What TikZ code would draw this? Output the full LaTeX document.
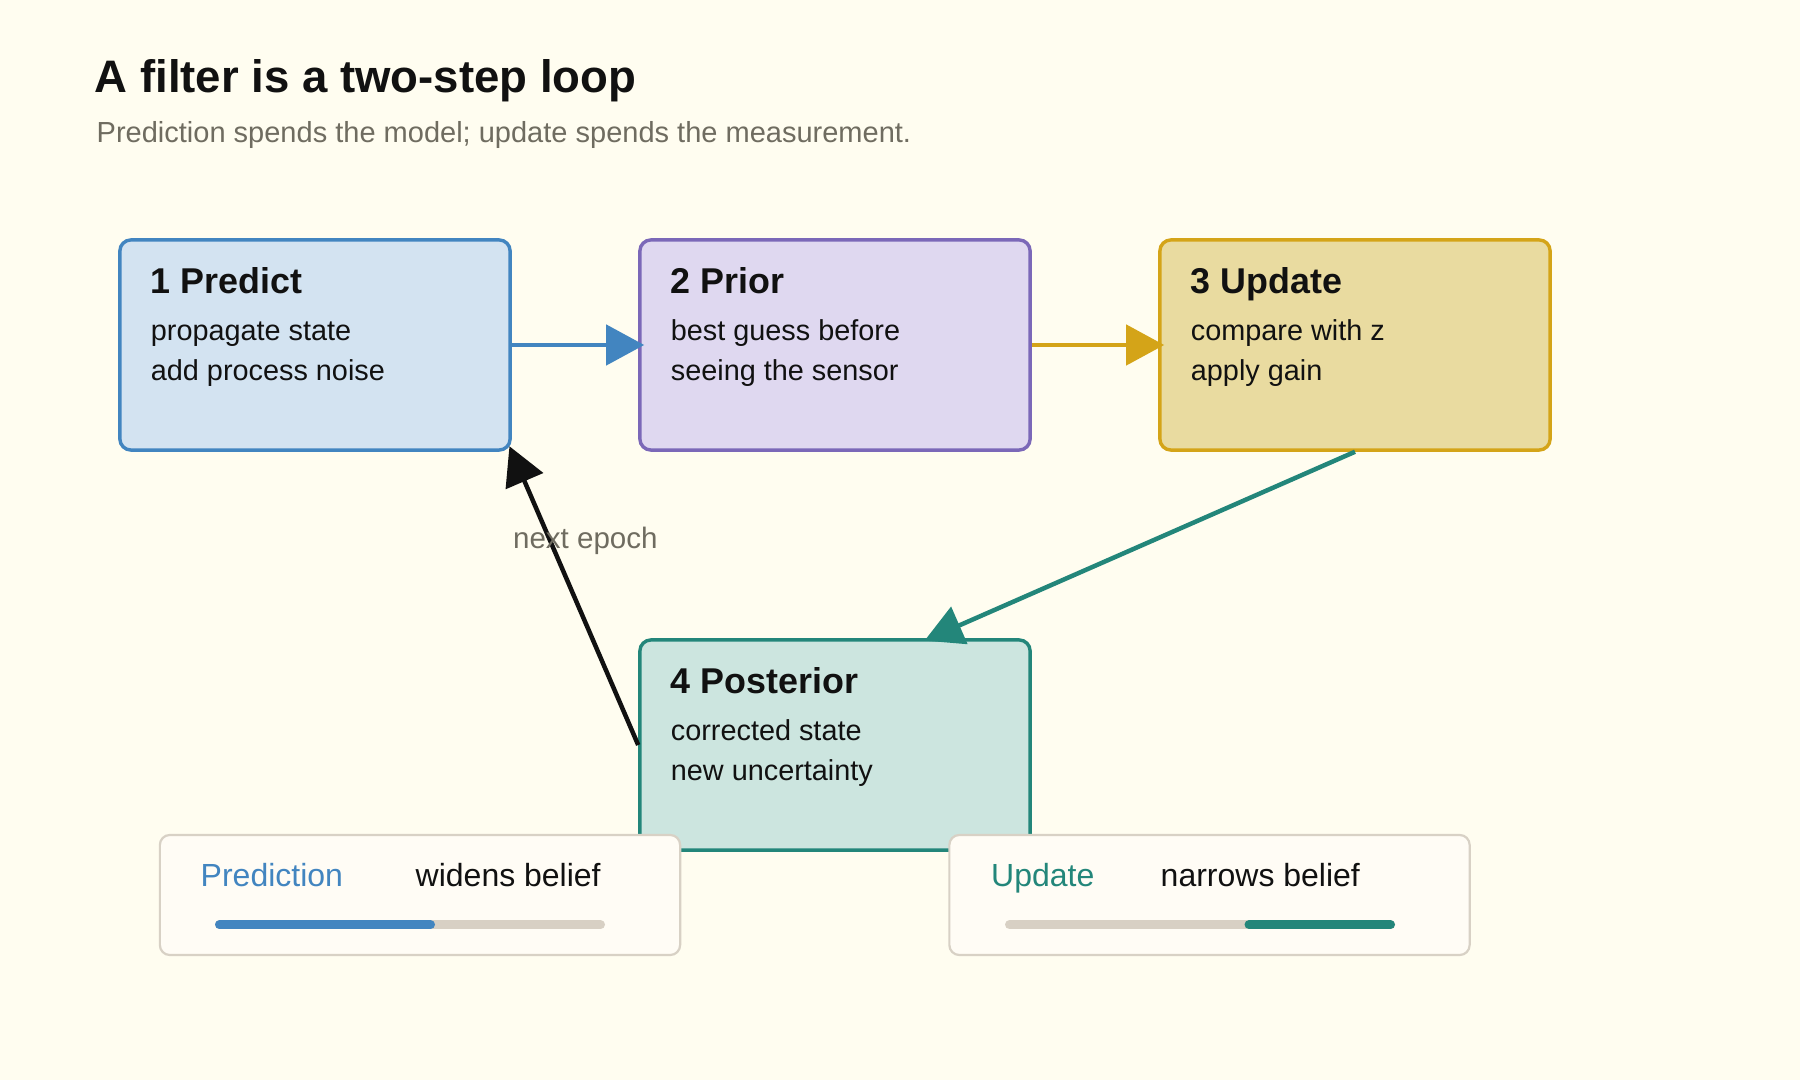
\documentclass[tikz,border=0pt]{standalone}
\usepackage{fontspec}
\setmainfont{Liberation Sans}
\usetikzlibrary{arrows.meta, calc}

\definecolor{bgcream}{HTML}{FFFDF0}
\definecolor{inkdark}{HTML}{111111}
\definecolor{inkgray}{HTML}{6F6C60}
\definecolor{predline}{HTML}{4285C0}
\definecolor{predfill}{HTML}{D3E3F1}
\definecolor{priorline}{HTML}{7B68B8}
\definecolor{priorfill}{HTML}{DFD8F0}
\definecolor{updline}{HTML}{D4A418}
\definecolor{updfill}{HTML}{E9DBA0}
\definecolor{postline}{HTML}{23867A}
\definecolor{postfill}{HTML}{CCE5DF}
\definecolor{legline}{HTML}{D8D1C5}
\definecolor{legfill}{HTML}{FFFCF5}
\definecolor{bargray}{HTML}{D8D0C4}

\begin{document}
\begin{tikzpicture}[x=0.01cm, y=-0.01cm,
    txt/.style={inner sep=0pt, anchor=base west, text=inkdark},
    head/.style={txt, font=\fontsize{10.2}{12}\selectfont\bfseries},
    body/.style={txt, font=\fontsize{8.2}{10}\selectfont},
    flow/.style={-{Triangle[length=3.8mm, width=4mm]}, line width=0.45mm, shorten >=-0.6mm},
    legbox/.style={draw=legline, fill=legfill, rounded corners=1mm, line width=0.22mm,
        minimum width=5.2cm, minimum height=1.2cm, inner sep=0pt},
    legtxt/.style={txt, font=\fontsize{9.1}{11}\selectfont},
    bar/.style={line width=0.09cm, line cap=round}]
\fill[bgcream] (0,0) rectangle (1800,1080);
\useasboundingbox (0,0) rectangle (1800,1080);

\node[txt, font=\fontsize{12.95}{15}\selectfont\bfseries] (title) at (94,93) {A filter is a two-step loop};
\node[txt, text=inkgray, font=\fontsize{8.25}{10}\selectfont] (subtitle) at (96,143) {Prediction spends the model; update spends the measurement.};

\begin{scope}[every node/.style={draw, rounded corners=1.1mm, line width=0.34mm,
        minimum width=3.9cm, minimum height=2.1cm, inner sep=0pt}]
    \node[draw=predline, fill=predfill] (pred) at (315,345) {};
    \node[draw=priorline, fill=priorfill] (prior) at (835,345) {};
    \node[draw=updline, fill=updfill] (upd) at (1355,345) {};
    \node[draw=postline, fill=postfill] (post) at (835,745) {};
\end{scope}

\node[head] (predH) at ($(pred.north west)+(32,55)$) {1 Predict};
\node[body] (predA) at ($(pred.north west)+(32,102)$) {propagate state};
\node[body] (predB) at ($(pred.north west)+(32,142)$) {add process noise};
\node[head] (priorH) at ($(prior.north west)+(32,55)$) {2 Prior};
\node[body] (priorA) at ($(prior.north west)+(32,102)$) {best guess before};
\node[body] (priorB) at ($(prior.north west)+(32,142)$) {seeing the sensor};
\node[head] (updH) at ($(upd.north west)+(32,55)$) {3 Update};
\node[body] (updA) at ($(upd.north west)+(32,102)$) {compare with z};
\node[body] (updB) at ($(upd.north west)+(32,142)$) {apply gain};
\node[head] (postH) at ($(post.north west)+(32,55)$) {4 Posterior};
\node[body] (postA) at ($(post.north west)+(32,102)$) {corrected state};
\node[body] (postB) at ($(post.north west)+(32,142)$) {new uncertainty};

\draw[flow, predline] (pred.east) -- (prior.west);
\draw[flow, updline] (prior.east) -- (upd.west);
\draw[flow, postline] (upd.south) -- ([xshift=0.95cm]post.north);
\draw[flow, inkdark] (post.west) -- (pred.south east)
    node[pos=0.695, xshift=0.35cm, inner sep=0pt, text=inkgray, font=\fontsize{8.4}{10}\selectfont] (epoch) {next epoch};

\node[legbox] (legP) at (420,895) {};
\node[legbox] (legU) at (1209.5,895) {};
\node[legtxt, text=predline] (legPa) at (200,887) {Prediction};
\node[legtxt] (legPb) at (415,887) {widens belief};
\node[legtxt, text=postline] (legUa) at (990.5,887) {Update};
\node[legtxt] (legUb) at (1160,887) {narrows belief};
\draw[bar, bargray] (219.5,924.7) -- (600.5,924.7);
\draw[bar, predline] (219.5,924.7) -- (430.5,924.7);
\draw[bar, bargray] (1009.5,924.7) -- (1390.5,924.7);
\draw[bar, postline] (1249,924.7) -- (1390.5,924.7);
\end{tikzpicture}
\end{document}
